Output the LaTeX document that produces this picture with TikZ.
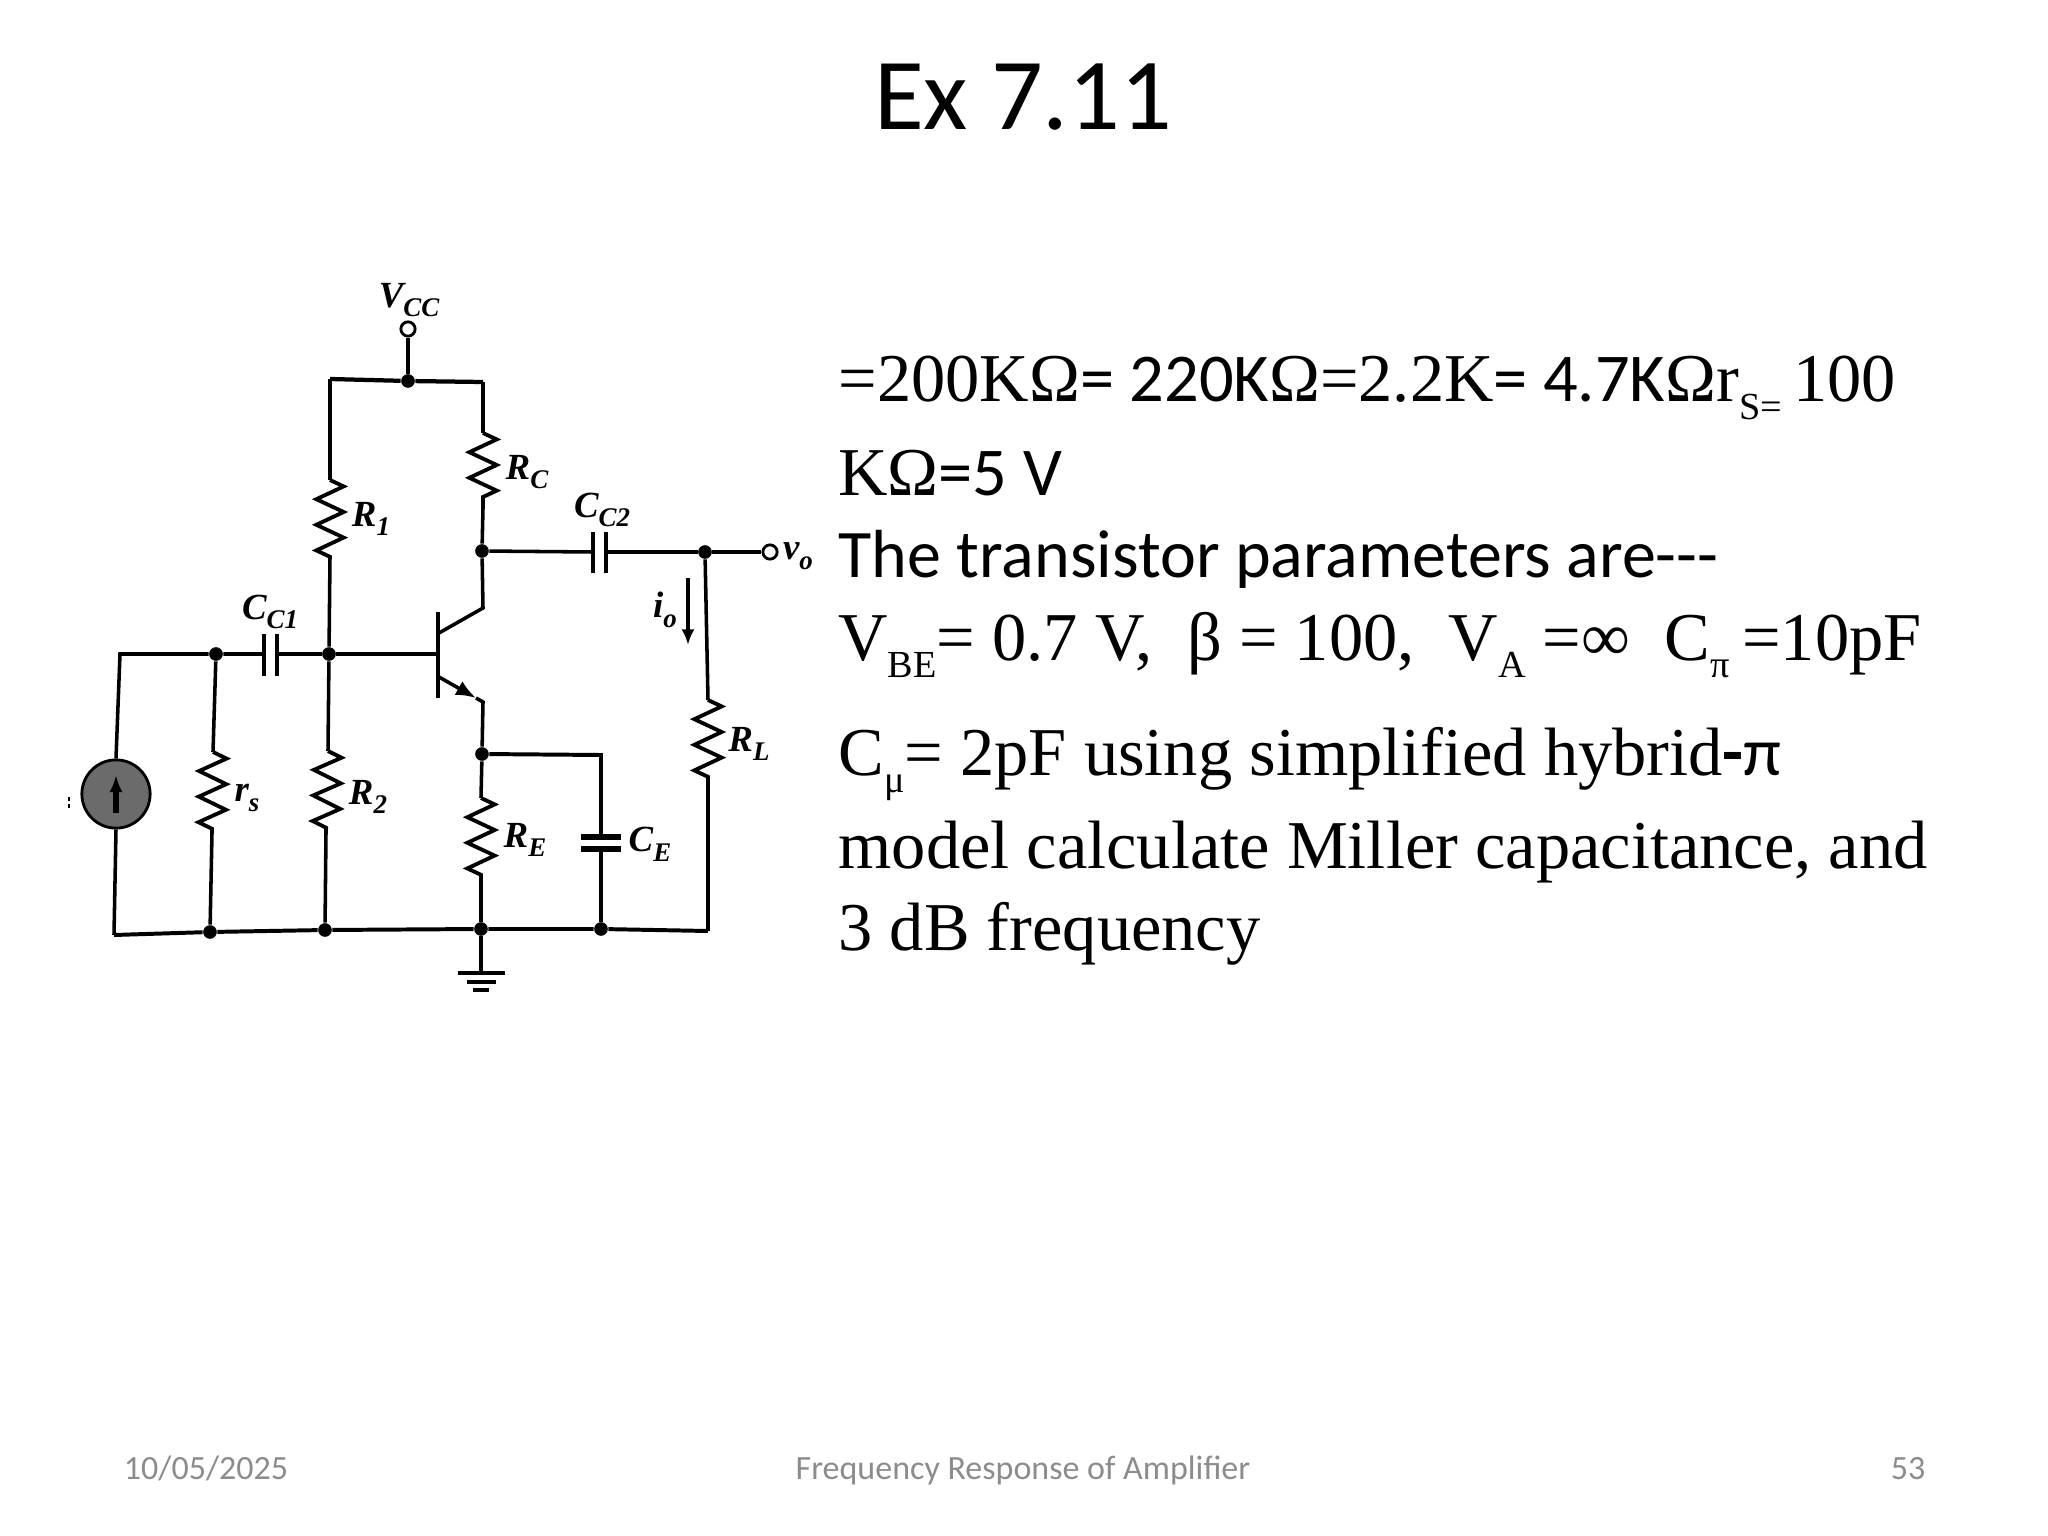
\documentclass[tikz,border=0pt]{standalone}
\usepackage{fontspec}
\setmainfont{Carlito}
\newfontfamily\tms{Liberation Serif}
\usetikzlibrary{decorations.pathmorphing,arrows.meta}
\newcommand{\low}[1]{\raisebox{-6pt}{\fontsize{13.5}{13.5}\selectfont #1}}
\newcommand{\lsub}[1]{\raisebox{-3.4pt}{\fontsize{9.5}{9.5}\selectfont #1}}
\tikzset{
  wire/.style={line width=1.25pt},
  res/.style={line width=1.35pt,decorate,decoration={zigzag,segment length=9bp,amplitude=4.8bp}},
  plate/.style={line width=1.5pt},
  junct/.style={circle,fill=black,inner sep=0pt,minimum size=4.8bp},
  term/.style={circle,draw=black,fill=white,line width=1pt,inner sep=0pt,minimum size=5bp},
  lab/.style={font=\tms\bfseries\itshape\fontsize{13}{13}\selectfont,inner sep=0pt},
  txtline/.style={anchor=base west,inner sep=0pt,font=\tms\fontsize{24.15}{24.15}\selectfont},
  foot/.style={anchor=base,inner sep=0pt,text=black!45,font=\fontsize{12}{12}\selectfont},
  tip/.style={-{Latex[length=5.5bp,width=4.6bp]}}
}
\begin{document}
\begin{tikzpicture}[x=0.3515625bp,y=-0.3515625bp]
  \useasboundingbox (0,0) rectangle (2048,1536);
  \node[anchor=base,inner sep=0pt,font=\fontsize{36}{36}\selectfont] (title) at (1023,130) {Ex 7.11};
  % supply and top rail
  \node[term] (vcc) at (408,329) {};
  \node[junct] (top) at (408,381) {};
  \coordinate (topl) at (330,379);
  \coordinate (topr) at (483,382);
  \draw[wire] (vcc) -- (top);
  \draw[line width=1.5pt] (topl) -- (top) -- (topr);
  % resistors
  \coordinate (r1a) at (330,480); \coordinate (r1b) at (330,557);
  \coordinate (rca) at (483,433); \coordinate (rcb) at (483,508);
  \coordinate (rsa) at (213,752); \coordinate (rsb) at (212,833);
  \coordinate (r2a) at (328,751); \coordinate (r2b) at (326,832);
  \coordinate (rea) at (481,798); \coordinate (reb) at (481,880);
  \coordinate (rla) at (708,700); \coordinate (rlb) at (708,782);
  \draw[res] (r1a) -- (r1b);
  \draw[res] (rca) -- (rcb);
  \draw[res] (rsa) -- (rsb);
  \draw[res] (r2a) -- (r2b);
  \draw[res] (rea) -- (reb);
  \draw[res] (rla) -- (rlb);
  % nodes
  \node[junct] (nc) at (482,551) {};
  \node[junct] (nout) at (705,552) {};
  \node[term] (vout) at (770,552) {};
  \node[junct] (nb) at (329,654) {};
  \node[junct] (nin) at (216,654) {};
  \coordinate (inl) at (120,654);
  \node[junct] (ne) at (482,754) {};
  \coordinate (cer) at (601,755);
  \node[junct] (gs) at (210,932) {};
  \node[junct] (g2) at (325,930) {};
  \node[junct] (ge) at (481,929) {};
  \node[junct] (gc) at (601,929) {};
  \coordinate (gl) at (114,935);
  \coordinate (gr) at (708,931);
  \coordinate (gnd) at (481,973);
  % source
  \node[circle,draw=black,fill=black!58,line width=1pt,inner sep=0pt,minimum size=24bp] (src) at (116,794) {};
  \coordinate (srca) at (116,813); \coordinate (srcb) at (116,775);
  \draw[line width=2pt,-{Latex[length=6bp,width=4.6bp]}] (srca) -- (srcb);
  \draw[line width=.8pt,dash pattern=on 1.5pt off 1pt] (69,797) -- (69,808);
  % coupling caps
  \coordinate (c1a) at (264,654); \coordinate (c1b) at (277,654);
  \coordinate (c2a) at (593,552); \coordinate (c2b) at (606,552);
  \coordinate (cea) at (601,837); \coordinate (ceb) at (601,848);
  \draw[plate] (264,634) -- (264,676);
  \draw[plate] (277,634) -- (277,676);
  \draw[plate] (593,532) -- (593,573);
  \draw[plate] (606,532) -- (606,573);
  \draw[line width=2pt] (581,837) -- (621,837);
  \draw[line width=2pt] (581,849) -- (621,849);
  % transistor
  \coordinate (bb) at (438,654);
  \coordinate (bct) at (439,633); \coordinate (cc) at (483,608);
  \coordinate (bet) at (439,677); \coordinate (ec) at (483,702);
  \coordinate (etip) at (476,698);
  \draw[line width=1.6pt] (438,612) -- (438,698);
  \draw[wire] (bct) -- (cc) -- (nc);
  \draw[wire,-{Latex[length=7bp,width=5.5bp]}] (bet) -- (etip);
  \draw[wire] (etip) -- (ec) -- (ne);
  % wiring
  \draw[wire] (topl) -- (r1a);
  \draw[wire] (r1b) -- (nb);
  \draw[wire] (topr) -- (rca);
  \draw[wire] (rcb) -- (nc);
  \draw[wire] (nc) -- (c2a);
  \draw[wire] (c2b) -- (nout) -- (vout);
  \draw[wire] (nout) -- (rla);
  \draw[wire] (rlb) -- (gr);
  \draw[wire] (src.north) -- (inl) -- (nin) -- (c1a);
  \draw[wire] (c1b) -- (nb) -- (bb);
  \draw[wire] (nin) -- (rsa);
  \draw[wire] (rsb) -- (gs);
  \draw[wire] (nb) -- (r2a);
  \draw[wire] (r2b) -- (g2);
  \draw[wire] (ne) -- (rea);
  \draw[wire] (reb) -- (ge);
  \draw[line width=1.4pt] (ne) -- (cer) -- (cea);
  \draw[wire] (ceb) -- (gc);
  \draw[wire] (src.south) -- (gl);
  \draw[line width=1.4pt] (gl) -- (gs) -- (g2) -- (ge) -- (gc) -- (gr);
  \draw[wire] (ge) -- (gnd);
  \draw[line width=1.7pt] (458,973) -- (505,973);
  \draw[line width=1.7pt] (467,982) -- (496,982);
  \draw[line width=1.7pt] (473,990) -- (489,990);
  % output current
  \coordinate (ioa) at (688,578); \coordinate (iob) at (688,645);
  \draw[wire,tip] (ioa) -- (iob);
  % labels
  \node[lab] (lvcc) at (409,300) {V\lsub{CC}};
  \node[lab] (lrc) at (527,472) {R\lsub{C}};
  \node[lab] (lr1) at (371,519) {R\lsub{1}};
  \node[lab] (lcc2) at (602,510) {C\lsub{C2}};
  \node[lab] (lcc1) at (270,612) {C\lsub{C1}};
  \node[lab] (lvo) at (798,556) {v\lsub{o}};
  \node[lab] (lio) at (665,610) {i\lsub{o}};
  \node[lab] (lrl) at (749,744) {R\lsub{L}};
  \node[lab] (lrs) at (247,798) {r\lsub{s}};
  \node[lab] (lr2) at (368,797) {R\lsub{2}};
  \node[lab] (lre) at (525,840) {R\lsub{E}};
  \node[lab] (lce) at (650,844) {C\lsub{E}};
  % text lines
  \node[txtline] (l1) at (838,402) {=200KΩ{\rmfamily = 220K}Ω=2.2K{\rmfamily = 4.7K}Ωr\low{S=}\,100};
  \node[txtline] (l2) at (838,495) {KΩ{\rmfamily =5 V}};
  \node[txtline,font=\fontsize{24}{24}\selectfont] (l3) at (838,577) {The transistor parameters are{-}{-}{-}};
  \node[txtline] (l4) at (838,660) {V\low{BE}= 0.7 V,\ \ β = 100,\ \ V\low{A} =∞\ \ C\low{π}\kern-1.5pt{} =10pF};
  \node[txtline] (l5) at (838,775) {C\low{μ}= 2pF using simplified hybrid{\rmfamily\bfseries -}{\rmfamily π}};
  \node[txtline] (l6) at (838,868) {model calculate Miller capacitance, and};
  \node[txtline] (l7) at (838,950) {3 dB frequency};
  % footer
  \node[foot] (fdate) at (206,1479) {10/05/2025};
  \node[foot] (fmid) at (1023,1479) {Frequency Response of Amplifier};
  \node[foot] (fnum) at (1908,1479) {53};
\end{tikzpicture}
\end{document}
